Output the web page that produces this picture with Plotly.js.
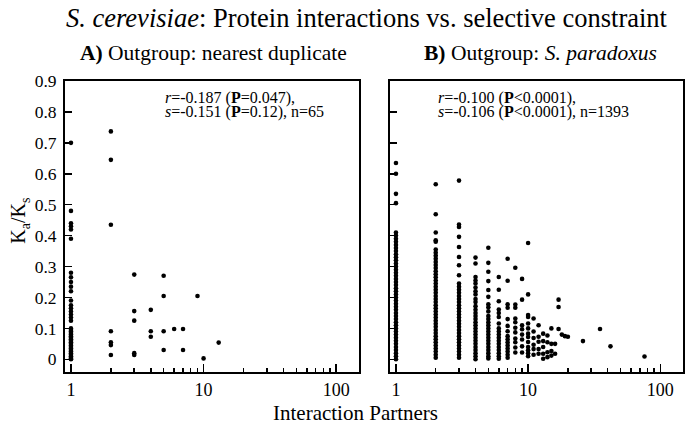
<!DOCTYPE html>
<html>
<head>
<meta charset="utf-8">
<script src="https://cdn.plot.ly/plotly-3.0.1.min.js"></script>
<style>html,body{margin:0;padding:0;background:#fff;}#chart{width:685px;height:425px;}</style>
</head>
<body>
<div id="chart"></div>
<script>
// Panel A: outgroup = nearest duplicate (n = 65)
const aPartners = [1, 2, 3, 4, 5, 6, 7, 9, 10, 13];
const aRatios = [
  [0.70, 0.48, 0.44, 0.43, 0.42, 0.39, 0.28, 0.265, 0.25, 0.235, 0.22, 0.19, 0.175, 0.165, 0.155, 0.145, 0.135, 0.125,
   0.10, 0.095, 0.09, 0.085, 0.08, 0.075, 0.07, 0.065, 0.06, 0.055, 0.05, 0.045, 0.04, 0.035, 0.03, 0.025, 0.02, 0.015, 0.01, 0.005, 0.002, 0.0],
  [0.737, 0.645, 0.435, 0.091, 0.055, 0.046, 0.014],
  [0.274, 0.156, 0.125, 0.02, 0.014],
  [0.16, 0.091, 0.073],
  [0.27, 0.205, 0.091, 0.03],
  [0.098],
  [0.098, 0.03],
  [0.205],
  [0.003],
  [0.054]
];

// Panel B: outgroup = S. paradoxus (n = 1393)
const bPartners = [1, 2, 3, 4, 5, 6, 7, 8, 9, 10, 11, 12, 13, 14, 15, 16, 17, 18, 19, 20, 26, 35, 42, 76];
const bRatios = [
  [0.635, 0.60, 0.535, 0.505, 0.41, 0.40, 0.39, 0.38, 0.37, 0.36, 0.35, 0.34, 0.33, 0.32, 0.31, 0.30, 0.29, 0.28, 0.27, 0.26,
   0.25, 0.24, 0.23, 0.22, 0.21, 0.20, 0.19, 0.18, 0.17, 0.16, 0.15, 0.14, 0.13, 0.12, 0.11, 0.10, 0.09, 0.08, 0.07, 0.06,
   0.05, 0.04, 0.03, 0.02, 0.01, 0.0],
  [0.566, 0.469, 0.41, 0.385, 0.38, 0.355, 0.345, 0.335, 0.325, 0.315, 0.305, 0.295, 0.285, 0.275, 0.265, 0.255, 0.245, 0.235,
   0.225, 0.215, 0.205, 0.195, 0.185, 0.175, 0.165, 0.155, 0.145, 0.135, 0.125, 0.115, 0.105, 0.095, 0.085, 0.075, 0.065,
   0.055, 0.045, 0.035, 0.025, 0.015, 0.005],
  [0.578, 0.436, 0.428, 0.396, 0.363, 0.331, 0.304, 0.272, 0.245, 0.235, 0.225, 0.215, 0.205, 0.195, 0.185, 0.175, 0.165,
   0.155, 0.145, 0.135, 0.125, 0.115, 0.105, 0.095, 0.085, 0.075, 0.065, 0.055, 0.045, 0.035, 0.025, 0.015, 0.005],
  [0.329, 0.31, 0.266, 0.255, 0.245, 0.232, 0.22, 0.21, 0.195, 0.185, 0.172, 0.16, 0.15, 0.14, 0.13, 0.12, 0.11, 0.10,
   0.09, 0.08, 0.07, 0.06, 0.05, 0.04, 0.03, 0.02, 0.01, 0.0],
  [0.361, 0.312, 0.283, 0.253, 0.224, 0.202, 0.178, 0.168, 0.155, 0.14, 0.13, 0.12, 0.11, 0.10, 0.09, 0.08, 0.07, 0.06,
   0.05, 0.04, 0.03, 0.02, 0.01, 0.003],
  [0.266, 0.225, 0.188, 0.161, 0.15, 0.137, 0.116, 0.10, 0.09, 0.08, 0.07, 0.06, 0.05, 0.04, 0.03, 0.02, 0.01, 0.002],
  [0.325, 0.254, 0.178, 0.167, 0.13, 0.108, 0.091, 0.075, 0.065, 0.055, 0.045, 0.035, 0.025, 0.015, 0.005],
  [0.296, 0.177, 0.167, 0.132, 0.12, 0.102, 0.087, 0.067, 0.055, 0.038, 0.022],
  [0.26, 0.193, 0.11, 0.097, 0.08, 0.064, 0.042, 0.022],
  [0.376, 0.21, 0.143, 0.137, 0.116, 0.10, 0.083, 0.072, 0.056, 0.04, 0.029, 0.02, 0.01],
  [0.132, 0.09, 0.069, 0.047, 0.033, 0.015],
  [0.11, 0.073, 0.057, 0.033, 0.018],
  [0.083, 0.059, 0.04, 0.018, 0.002],
  [0.077, 0.055, 0.023, 0.007],
  [0.10, 0.05, 0.027, 0.012],
  [0.05, 0.018],
  [0.193, 0.169, 0.098],
  [0.08],
  [0.075],
  [0.073],
  [0.059],
  [0.098],
  [0.042],
  [0.009]
];

const yTickVals = [0, 0.1, 0.2, 0.3, 0.4, 0.5, 0.6, 0.7, 0.8, 0.9];
const yTickText = ['0', '0.1', '0.2', '0.3', '0.4', '0.5', '0.6', '0.7', '0.8', '0.9'];
const xTickVals = [1, 10, 100];
const xTickText = ['1', '10', '100'];
const xMinorVals = [2, 3, 4, 5, 6, 7, 8, 9, 20, 30, 40, 50, 60, 70, 80, 90];

function flatten(partners, ratios) {
  const x = [], y = [];
  partners.forEach((p, i) => ratios[i].forEach(v => { x.push(p); y.push(v); }));
  return {x, y};
}
const A = flatten(aPartners, aRatios);
const B = flatten(bPartners, bRatios);

const FONT = 'Liberation Serif, Times New Roman, serif';
const marker = {color: '#000', size: 4.6, symbol: 'circle'};

const traces = [
  {type: 'scatter', mode: 'markers', x: A.x, y: A.y, xaxis: 'x', yaxis: 'y', marker: marker, hoverinfo: 'x+y'},
  {type: 'scatter', mode: 'markers', x: B.x, y: B.y, xaxis: 'x2', yaxis: 'y2', marker: marker, hoverinfo: 'x+y'}
];

function xAxis(domain) {
  return {
    type: 'log', domain: domain, range: [-0.045, 2.172],
    tickmode: 'array', tickvals: xTickVals, ticktext: xTickText,
    ticks: 'inside', ticklen: 8, tickwidth: 1.5, tickcolor: '#000',
    minor: {tickmode: 'array', tickvals: xMinorVals, ticks: 'inside', ticklen: 4, tickwidth: 1.5, tickcolor: '#000', showgrid: false},
    showline: true, linecolor: '#000', linewidth: 2, mirror: true,
    showgrid: false, zeroline: false,
    tickfont: {family: FONT, size: 18, color: '#000'}
  };
}
function yAxis(anchor, showLabels) {
  return {
    anchor: anchor, domain: [0, 1], range: [-0.041, 0.9],
    tickmode: 'array', tickvals: yTickVals, ticktext: yTickText,
    showticklabels: showLabels, ticklabelstandoff: 3,
    ticks: 'inside', ticklen: 7, tickwidth: 1.5, tickcolor: '#000',
    showline: true, linecolor: '#000', linewidth: 2, mirror: true,
    showgrid: false, zeroline: false,
    tickfont: {family: FONT, size: 17.5, color: '#000'}
  };
}

const layout = {
  width: 685, height: 425,
  margin: {l: 65, r: 2, t: 81, b: 53},
  paper_bgcolor: '#fff', plot_bgcolor: '#fff',
  showlegend: false,
  font: {family: FONT, color: '#000'},
  xaxis: Object.assign(xAxis([0, 0.4757]), {anchor: 'y'}),
  yaxis: yAxis('x', true),
  xaxis2: Object.assign(xAxis([0.5259, 1]), {anchor: 'y2'}),
  yaxis2: yAxis('x2', false),
  annotations: [
    {text: '<i>S. cerevisiae</i>: Protein interactions vs. selective constraint', xref: 'paper', yref: 'paper',
     x: 0.4885, y: 1, yshift: 63, xanchor: 'center', yanchor: 'middle', showarrow: false, font: {family: FONT, size: 26.5}},
    {text: '<b>A)</b> Outgroup: nearest duplicate', xref: 'paper', yref: 'paper',
     x: 0.241, y: 1, yshift: 28, xanchor: 'center', yanchor: 'middle', showarrow: false, font: {family: FONT, size: 21.5}},
    {text: '<b>B)</b> Outgroup: <i>S. paradoxus</i>', xref: 'paper', yref: 'paper',
     x: 0.77, y: 1, yshift: 28, xanchor: 'center', yanchor: 'middle', showarrow: false, font: {family: FONT, size: 21.5}},
    {text: '<i>r</i>=-0.187 (<b>P</b>=0.047),', xref: 'paper', yref: 'paper',
     x: 0.1585, y: 1, yshift: -17, xanchor: 'left', yanchor: 'middle', showarrow: false, font: {family: FONT, size: 16}},
    {text: '<i>s</i>=-0.151 (<b>P</b>=0.12), n=65', xref: 'paper', yref: 'paper',
     x: 0.1585, y: 1, yshift: -31, xanchor: 'left', yanchor: 'middle', showarrow: false, font: {family: FONT, size: 16}},
    {text: '<i>r</i>=-0.100 (<b>P</b>&lt;0.0001),', xref: 'paper', yref: 'paper',
     x: 0.6, y: 1, yshift: -17, xanchor: 'left', yanchor: 'middle', showarrow: false, font: {family: FONT, size: 16}},
    {text: '<i>s</i>=-0.106 (<b>P</b>&lt;0.0001), n=1393', xref: 'paper', yref: 'paper',
     x: 0.6, y: 1, yshift: -31, xanchor: 'left', yanchor: 'middle', showarrow: false, font: {family: FONT, size: 16}},
    {text: 'K<sub>a</sub>/K<sub>s</sub>', xref: 'paper', yref: 'paper', textangle: -90,
     x: 0, xshift: -45, y: 0.52, xanchor: 'center', yanchor: 'middle', showarrow: false, font: {family: FONT, size: 20}},
    {text: 'Interaction Partners', xref: 'paper', yref: 'paper',
     x: 0.47, y: 0, yshift: -41, xanchor: 'center', yanchor: 'middle', showarrow: false, font: {family: FONT, size: 21}}
  ]
};

Plotly.newPlot('chart', traces, layout, {displayModeBar: false, staticPlot: true});
</script>
</body>
</html>
